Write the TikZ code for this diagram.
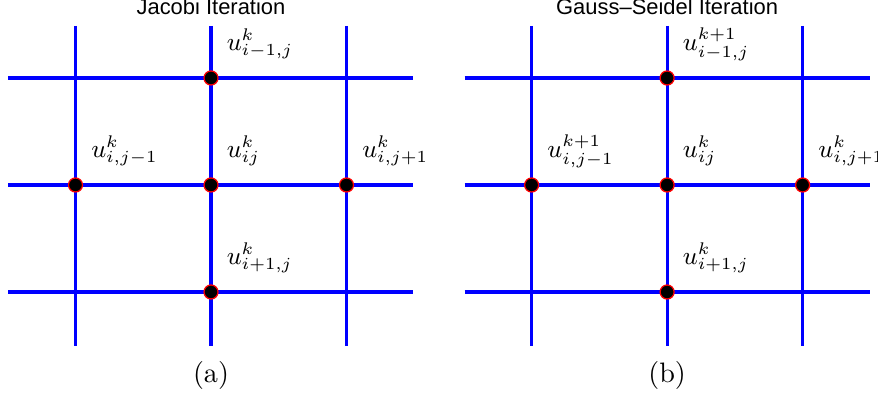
\documentclass[tikz,border=0pt]{standalone}
\usepackage{fontspec}
\newfontfamily\titlefont{Liberation Sans}
\usepackage{tikz}
\usetikzlibrary{positioning}
\definecolor{gridblue}{HTML}{0000FF}
\definecolor{dotred}{HTML}{FF0000}

\begin{document}
\begin{tikzpicture}[
  x=0.0125cm, y=-0.0125cm,
  gridline/.style={draw=gridblue, line width=1.1pt},
  gridpt/.style={circle, fill=black, draw=dotred, line width=0.45pt,
    minimum size=0.175cm, inner sep=0pt},
  ulabel/.style={anchor=base west, inner sep=0pt, xshift=0.19cm, yshift=0.34cm,
    font=\fontsize{9}{11}\selectfont},
  title/.style={anchor=base, inner sep=0pt, font=\titlefont\fontsize{7.8}{9}\selectfont},
  tag/.style={anchor=base, inner sep=0pt},
  ]
  \useasboundingbox (0,0) rectangle (878,398);

  % (a) Jacobi
  \begin{scope}
    \foreach \r in {78,185,292} \draw[gridline] (8.5,\r) -- (413.5,\r);
    \foreach \c in {75.5,211,346.5} \draw[gridline] (\c,26) -- (\c,346);
    \node[title] (ta) at (211,15) {Jacobi Iteration};
    \node[gridpt] (aN) at (211,78) {};
    \node[gridpt] (aW) at (75.5,185) {};
    \node[gridpt] (aC) at (211,185) {};
    \node[gridpt] (aE) at (346.5,185) {};
    \node[gridpt] (aS) at (211,292) {};
    \node[ulabel] (laN) at (aN) {$u_{i-1,j}^{k}$};
    \node[ulabel] (laW) at (aW) {$u_{i,j-1}^{k}$};
    \node[ulabel] (laC) at (aC) {$u_{ij}^{k}$};
    \node[ulabel] (laE) at (aE) {$u_{i,j+1}^{k}$};
    \node[ulabel] (laS) at (aS) {$u_{i+1,j}^{k}$};
    \node[tag] (tga) at (211,383) {(a)};
  \end{scope}

  % (b) Gauss-Seidel
  \begin{scope}[xshift=5.7cm]
    \foreach \r in {78,185,292} \draw[gridline] (8.5,\r) -- (413.5,\r);
    \foreach \c in {75.5,211,346.5} \draw[gridline] (\c,26) -- (\c,346);
    \node[title] (tb) at (211,15) {Gauss\textendash Seidel Iteration};
    \node[gridpt] (bN) at (211,78) {};
    \node[gridpt] (bW) at (75.5,185) {};
    \node[gridpt] (bC) at (211,185) {};
    \node[gridpt] (bE) at (346.5,185) {};
    \node[gridpt] (bS) at (211,292) {};
    \node[ulabel] (lbN) at (bN) {$u_{i-1,j}^{k+1}$};
    \node[ulabel] (lbW) at (bW) {$u_{i,j-1}^{k+1}$};
    \node[ulabel] (lbC) at (bC) {$u_{ij}^{k}$};
    \node[ulabel] (lbE) at (bE) {$u_{i,j+1}^{k}$};
    \node[ulabel] (lbS) at (bS) {$u_{i+1,j}^{k}$};
    \node[tag] (tgb) at (211,383) {(b)};
  \end{scope}
\end{tikzpicture}
\end{document}
